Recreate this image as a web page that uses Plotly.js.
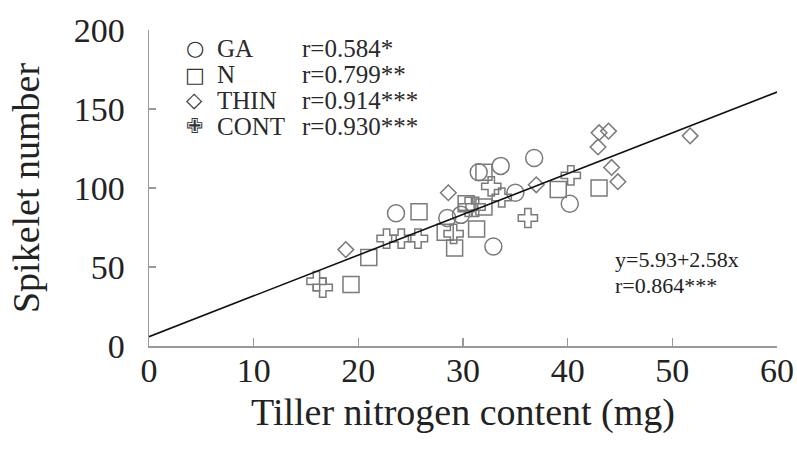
<!DOCTYPE html>
<html>
<head>
<meta charset="utf-8">
<script src="https://cdn.plot.ly/plotly-3.0.1.min.js"></script>
<style>html,body{margin:0;padding:0;background:#fff;}#chart{width:797px;height:451px;}</style>
</head>
<body>
<div id="chart"></div>
<script>
// GA (circles)
const gaX = [23.6, 28.5, 29.8, 31.5, 33.6, 35.0, 36.8, 40.2, 32.9];
const gaY = [84, 81, 83, 110, 114, 97, 119, 90, 63];
// N (squares)
const nX = [19.3, 21.0, 25.8, 28.3, 29.2, 30.3, 32.0, 31.3, 32.0, 39.1, 43.0];
const nY = [39, 56, 85, 72, 62, 90, 88, 74, 110, 99, 100];
// THIN (diamonds)
const thinX = [18.8, 28.6, 37.0, 43.0, 43.9, 42.9, 44.2, 44.8, 51.7];
const thinY = [61, 97, 102, 135, 136, 126, 113, 104, 133];
// CONT (crosses)
const contX = [16.0, 16.6, 22.7, 24.1, 25.7, 29.1, 30.5, 31.2, 32.7, 33.7, 36.2, 40.3];
const contY = [41, 37, 68, 68, 68, 71, 88, 88, 101, 94, 81, 108];
// regression y = a + b x
const fitA = 5.93, fitB = 2.58;
const fitX = [0, 60];
const seriesNames = ["GA", "N", "THIN", "CONT"];
const seriesGlyphs = ["\u25CB", "\u25A1", "\u25C7", "\u2719"];
const rLabels = ["r=0.584*", "r=0.799**", "r=0.914***", "r=0.930***"];
const eqLabels = ["y=5.93+2.58x", "r=0.864***"];

const FONT = "'Liberation Serif', 'Times New Roman', serif";
const GRAY = "#7a7a7a";
const mk = (sym, size) => ({symbol: sym, size: size, color: GRAY, line: {color: GRAY, width: 1.5}});

const traces = [
  {x: gaX, y: gaY, name: seriesNames[0], type: "scatter", mode: "markers", marker: mk("circle-open", 17)},
  {x: nX, y: nY, name: seriesNames[1], type: "scatter", mode: "markers", marker: mk("square-open", 16)},
  {x: thinX, y: thinY, name: seriesNames[2], type: "scatter", mode: "markers", marker: mk("diamond-open", 12)},
  {x: contX, y: contY, name: seriesNames[3], type: "scatter", mode: "markers", marker: mk("cross-open", 16)},
  {x: fitX, y: fitX.map(v => fitA + fitB * v), type: "scatter", mode: "lines",
   line: {color: "#111", width: 1.6}, hoverinfo: "skip"}
];

// legend rows (paper y of row centres)
const rowY = [0.943, 0.858, 0.778, 0.696];
const annotations = [];
seriesNames.forEach((nm, i) => {
  annotations.push({text: seriesGlyphs[i], xref: "paper", yref: "paper", x: 0.0732, y: rowY[i],
    xanchor: "center", yanchor: "middle", showarrow: false,
    font: {family: "DejaVu Sans", size: 21, color: "#333"}});
  annotations.push({text: nm, xref: "paper", yref: "paper", x: 0.105, y: rowY[i],
    xanchor: "left", yanchor: "middle", showarrow: false,
    font: {family: FONT, size: 25, color: "#2a2a2a"}});
  annotations.push({text: rLabels[i], xref: "paper", yref: "paper", x: 0.240, y: rowY[i],
    xanchor: "left", yanchor: "middle", showarrow: false,
    font: {family: FONT, size: 25, color: "#2a2a2a"}});
});
annotations.push(
  {text: eqLabels[0], xref: "paper", yref: "paper", x: 0.739, y: 0.275, xanchor: "left", yanchor: "middle",
   showarrow: false, font: {family: FONT, size: 22, color: "#222"}},
  {text: eqLabels[1], xref: "paper", yref: "paper", x: 0.739, y: 0.190, xanchor: "left", yanchor: "middle",
   showarrow: false, font: {family: FONT, size: 22, color: "#222"}}
);

const layout = {
  width: 797, height: 451,
  margin: {l: 149, r: 20, t: 30, b: 105},
  paper_bgcolor: "#fff", plot_bgcolor: "#fff",
  font: {family: FONT, color: "#222"},
  showlegend: false,
  xaxis: {
    range: [0, 60], tickvals: [0, 10, 20, 30, 40, 50, 60], showgrid: false, zeroline: false,
    showline: true, linecolor: "#999", linewidth: 1.5, ticks: "inside", ticklen: 8, tickcolor: "#999", tickwidth: 1.5,
    ticklabelstandoff: -6,
    tickfont: {family: FONT, size: 34, color: "#222"},
    title: {text: "Tiller nitrogen content (mg)", font: {family: FONT, size: 38, color: "#222"}, standoff: 10}
  },
  yaxis: {
    range: [0, 200], tickvals: [0, 50, 100, 150, 200], showgrid: false, zeroline: false,
    showline: true, linecolor: "#999", linewidth: 1.5, ticks: "inside", ticklen: 7, tickcolor: "#999", tickwidth: 1.5,
    ticklabelstandoff: 16,
    tickfont: {family: FONT, size: 34, color: "#222"},
    title: {text: "Spikelet number", font: {family: FONT, size: 38, color: "#222"}, standoff: 22}
  },
  annotations: annotations
};

Plotly.newPlot("chart", traces, layout, {displayModeBar: false, staticPlot: true});
</script>
</body>
</html>
